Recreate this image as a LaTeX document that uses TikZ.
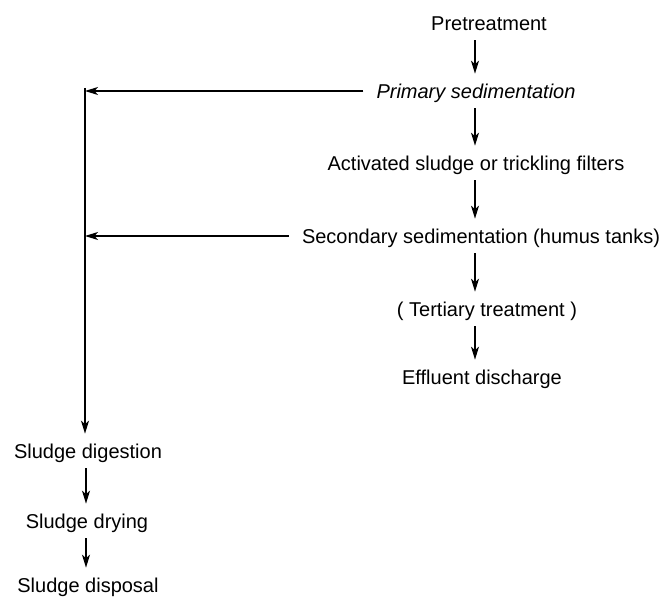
\documentclass[tikz,border=0pt]{standalone}
\usepackage{fontspec}
\setmainfont{Liberation Sans}
\usetikzlibrary{arrows.meta}
\begin{document}
\begin{tikzpicture}[x=1pt,y=-1pt,
  lbl/.style={font=\fontsize{20}{24}\selectfont, text height=14.3pt, text depth=0pt, inner ysep=10pt, inner xsep=13pt},
  arr/.style={line width=1.3pt, -{Stealth[length=13pt,width=8pt,inset=3.5pt]}},
  ln/.style={line width=1.3pt}]
\useasboundingbox (0,0) rectangle (662,599);
\coordinate (ax) at (475,0);
\coordinate (bx) at (86,0);
\coordinate (vx) at (85,0);
\node[lbl] (pre) at (489,23) {Pretreatment};
\node[lbl] (prim) at (476,91) {\itshape Primary sedimentation};
\node[lbl] (act) at (476,163) {Activated sludge or trickling filters};
\node[lbl] (sec) at (481,236) {Secondary sedimentation (humus tanks)};
\node[lbl] (ter) at (487,309) {( Tertiary treatment )};
\node[lbl] (eff) at (482,377) {Effluent discharge};
\node[lbl] (dig) at (88,451) {Sludge digestion};
\node[lbl] (dry) at (87,521) {Sludge drying};
\node[lbl] (dis) at (88,585) {Sludge disposal};
\coordinate (vtop) at (85,88);
\draw[arr] (pre.south -| ax) -- (prim.north -| ax);
\draw[arr] (prim.south -| ax) -- (act.north -| ax);
\draw[arr] (act.south -| ax) -- (sec.north -| ax);
\draw[arr] (sec.south -| ax) -- (ter.north -| ax);
\draw[arr] (ter.south -| ax) -- (eff.north -| ax);
\draw[arr] (prim.west) -- (prim.west -| vx);
\draw[arr] (sec.west) -- (sec.west -| vx);
\draw[arr] (vtop) -- (dig.north -| vx);
\draw[arr] (dig.south -| bx) -- (dry.north -| bx);
\draw[arr] (dry.south -| bx) -- (dis.north -| bx);
\end{tikzpicture}
\end{document}
